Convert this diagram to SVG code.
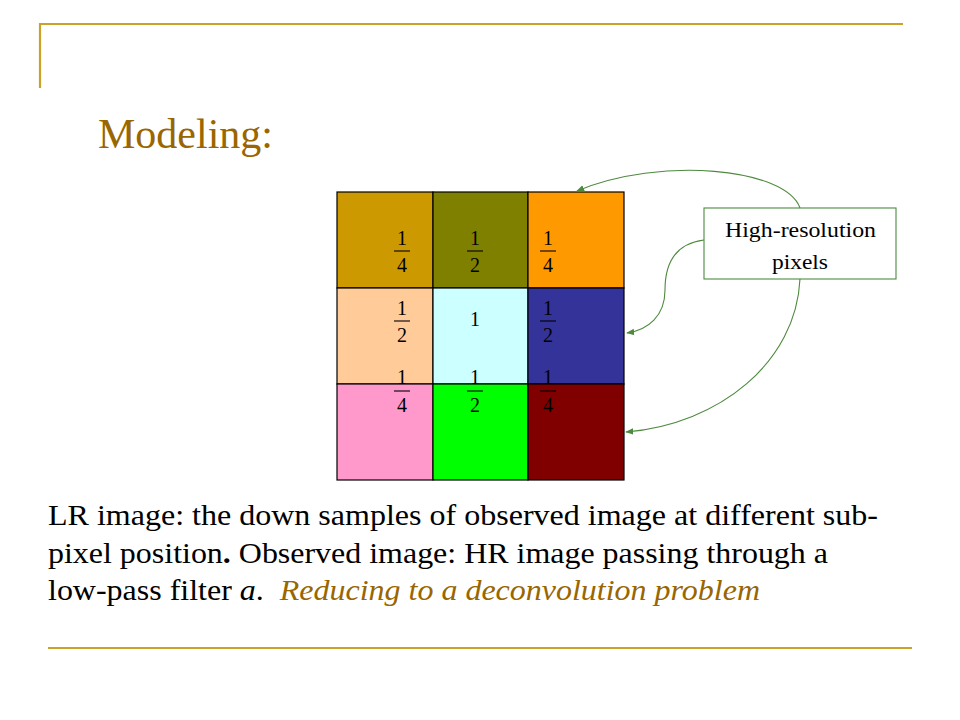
<svg xmlns="http://www.w3.org/2000/svg" width="960" height="720" viewBox="0 0 960 720">
<defs>
<style>
.rule{stroke:#C9A227;stroke-width:2.2;fill:none}
.cell{stroke:#000;stroke-width:1.2}
.num{font-family:"Liberation Serif","Times New Roman",serif;font-size:20px;fill:#000;text-anchor:middle}
.bar{stroke:#000;stroke-width:1.1}
.conn{fill:none;stroke:#4E8A3E;stroke-width:1.1}
.body{font-family:"Liberation Serif","Times New Roman",serif;font-size:30px;fill:#000}
.gold{fill:#996600}
</style>
<marker id="ah" viewBox="0 0 10 10" refX="9" refY="5" markerWidth="8" markerHeight="8" orient="auto" markerUnits="userSpaceOnUse">
<path d="M0,1 L10,5 L0,9 Z" fill="#4E8A3E"/>
</marker>
</defs>
<rect width="960" height="720" fill="#fff"/>
<g id="frame">
<line class="rule" x1="39" y1="24" x2="903" y2="24"/>
<line class="rule" x1="40" y1="23" x2="40" y2="88"/>
<line class="rule" x1="48" y1="648" x2="912" y2="648"/>
</g>
<text id="title" x="98" y="148" font-family="'Liberation Serif','Times New Roman',serif" font-size="42" fill="#996600">Modeling:</text>
<g id="grid">
<rect class="cell" x="337" y="192" width="96" height="96" fill="#CC9900"/>
<rect class="cell" x="433" y="192" width="95" height="96" fill="#808000"/>
<rect class="cell" x="528" y="192" width="96" height="96" fill="#FF9900"/>
<rect class="cell" x="337" y="288" width="96" height="96" fill="#FFCC99"/>
<rect class="cell" x="433" y="288" width="95" height="96" fill="#CCFFFF"/>
<rect class="cell" x="528" y="288" width="96" height="96" fill="#333399"/>
<rect class="cell" x="337" y="384" width="96" height="96" fill="#FF99CC"/>
<rect class="cell" x="433" y="384" width="95" height="96" fill="#00FF00"/>
<rect class="cell" x="528" y="384" width="96" height="96" fill="#800000"/>
</g>
<g id="weights">
<text class="num" x="402" y="245">1</text><line class="bar" x1="394" y1="251" x2="410" y2="251"/><text class="num" x="402" y="272">4</text>
<text class="num" x="475" y="245">1</text><line class="bar" x1="467" y1="251" x2="483" y2="251"/><text class="num" x="475" y="272">2</text>
<text class="num" x="548" y="245">1</text><line class="bar" x1="540" y1="251" x2="556" y2="251"/><text class="num" x="548" y="272">4</text>
<text class="num" x="402" y="315">1</text><line class="bar" x1="394" y1="321" x2="410" y2="321"/><text class="num" x="402" y="342">2</text>
<text class="num" x="475" y="326">1</text>
<text class="num" x="548" y="315">1</text><line class="bar" x1="540" y1="321" x2="556" y2="321"/><text class="num" x="548" y="342">2</text>
<text class="num" x="402" y="384">1</text><line class="bar" x1="394" y1="391" x2="410" y2="391"/><text class="num" x="402" y="412">4</text>
<text class="num" x="475" y="384">1</text><line class="bar" x1="467" y1="391" x2="483" y2="391"/><text class="num" x="475" y="412">2</text>
<text class="num" x="548" y="384">1</text><line class="bar" x1="540" y1="391" x2="556" y2="391"/><text class="num" x="548" y="412">4</text>
</g>
<g id="hr-label">
<rect x="704" y="208" width="192" height="71" fill="#fff" stroke="#4E8A3E" stroke-width="1.1"/>
<text x="725" y="237" textLength="151" lengthAdjust="spacingAndGlyphs" font-family="'Liberation Serif','Times New Roman',serif" font-size="22" fill="#000">High-resolution</text>
<text x="772" y="269" textLength="56" lengthAdjust="spacingAndGlyphs" font-family="'Liberation Serif','Times New Roman',serif" font-size="22" fill="#000">pixels</text>
</g>
<g id="connectors">
<path class="conn" marker-end="url(#ah)" d="M800,208 C786,168 660,156 577,191"/>
<path class="conn" marker-end="url(#ah)" d="M704,240 C672,244 665,268 665,290 C665,316 648,330 627,333"/>
<path class="conn" marker-end="url(#ah)" d="M800,279 C796,362 720,424 626,432"/>
</g>
<g id="caption">
<text class="body" x="48" y="525" textLength="830" lengthAdjust="spacingAndGlyphs">LR image: the down samples of observed image at different sub-</text>
<text class="body" x="48" y="563" textLength="780" lengthAdjust="spacingAndGlyphs">pixel position<tspan font-weight="bold">.</tspan> Observed image: HR image passing through a</text>
<text class="body" x="48" y="600" textLength="712" lengthAdjust="spacingAndGlyphs" xml:space="preserve">low-pass filter <tspan font-style="italic">a</tspan>.  <tspan class="gold" font-style="italic">Reducing to a deconvolution problem</tspan></text>
</g>
</svg>
